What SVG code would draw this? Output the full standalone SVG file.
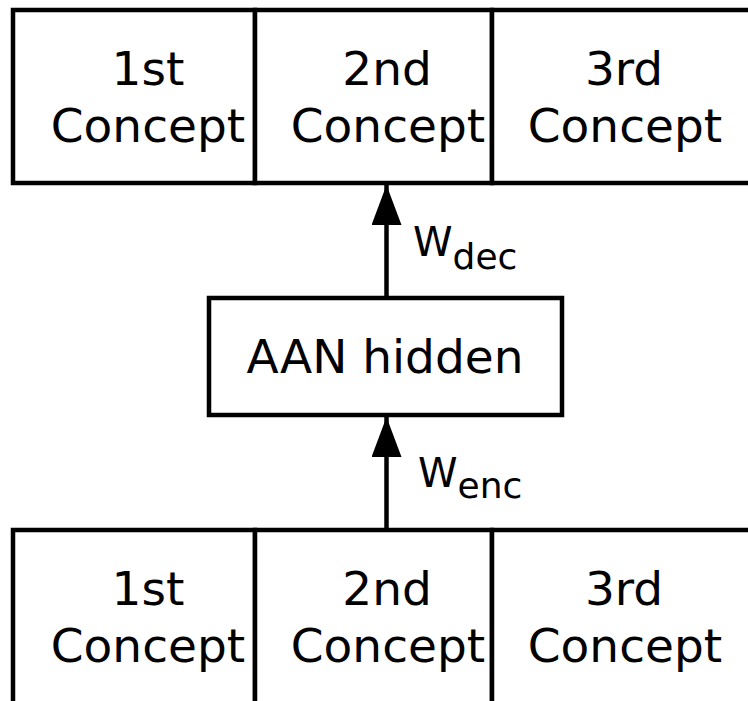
<svg xmlns="http://www.w3.org/2000/svg" width="748" height="701" viewBox="0 0 748 701">
<style>
.box{fill:#fff;stroke:#000;stroke-width:4.5}
.t{font-family:"DejaVu Sans",Verdana,sans-serif;font-size:47px;fill:#000;text-anchor:middle}
.w{font-family:"DejaVu Sans",Verdana,sans-serif;font-size:40px;fill:#000}
.s{font-size:36px}
.conn{stroke:#000;stroke-width:4.5;fill:none}
</style>
<defs>
<marker id="ah" viewBox="0 0 40 30" refX="40" refY="15" markerWidth="40" markerHeight="30" markerUnits="userSpaceOnUse" orient="auto">
<path d="M0,0 L40,15 L0,30 Z" fill="#000"/>
</marker>
</defs>
<rect width="748" height="701" fill="#fff"/>
<g id="top-1"><rect class="box" x="13" y="10" width="242" height="173"/><text class="t" x="148" y="85">1st</text><text class="t" x="148" y="142">Concept</text></g>
<g id="top-2"><rect class="box" x="255" y="10" width="237" height="173"/><text class="t" x="387" y="85">2nd</text><text class="t" x="388" y="142">Concept</text></g>
<g id="top-3"><rect class="box" x="492" y="10" width="270" height="173"/><text class="t" x="624" y="85">3rd</text><text class="t" x="625" y="142">Concept</text></g>
<g id="hidden"><rect class="box" x="209" y="298" width="353" height="117"/><text class="t" x="385" y="373">AAN hidden</text></g>
<g id="bot-1"><rect class="box" x="13" y="530" width="242" height="190"/><text class="t" x="148" y="605">1st</text><text class="t" x="148" y="662">Concept</text></g>
<g id="bot-2"><rect class="box" x="255" y="530" width="237" height="190"/><text class="t" x="387" y="605">2nd</text><text class="t" x="388" y="662">Concept</text></g>
<g id="bot-3"><rect class="box" x="492" y="530" width="270" height="190"/><text class="t" x="624" y="605">3rd</text><text class="t" x="625" y="662">Concept</text></g>
<g id="connectors">
<line class="conn" x1="386.5" y1="298" x2="386.5" y2="185" marker-end="url(#ah)"/>
<line class="conn" x1="386.5" y1="530" x2="386.5" y2="417" marker-end="url(#ah)"/>
<text class="w" x="413" y="256">W<tspan class="s" dy="13">dec</tspan></text>
<text class="w" x="418" y="487">W<tspan class="s" dy="11">enc</tspan></text>
</g>
</svg>
